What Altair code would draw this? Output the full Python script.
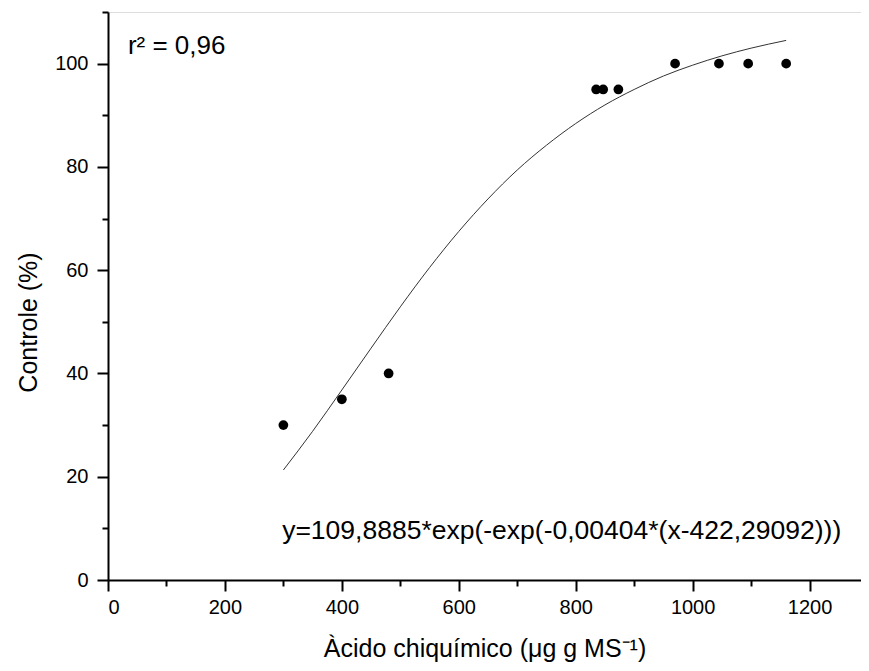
import altair as alt
import pandas as pd

# observed points
obs_x = [300, 400, 480, 835, 847, 873, 970, 1045, 1095, 1160]
obs_y = [30, 35, 40, 95, 95, 95, 100, 100, 100, 100]

# fitted curve, values
fit_x = [300, 350, 400, 450, 500, 550, 600, 650, 700, 750, 800, 850, 900, 950, 1000, 1050, 1100, 1160]
fit_y = [21.3, 28.8, 36.8, 44.9, 52.9, 60.5, 67.5, 73.8, 79.4, 84.2, 88.4, 92.0, 95.0, 97.6, 99.7, 101.5, 103.0, 104.5]

# annotations
ann_text = ["r² = 0,96", "y=109,8885*exp(-exp(-0,00404*(x-422,29092)))"]
ann_x = [34, 776]
ann_y = [103.4, 9.5]
ann_align = ["left", "center"]

x_ticks = list(range(0, 1201, 100))
y_ticks = list(range(0, 111, 10))

FONT = "Liberation Sans"

pts = pd.DataFrame({"x": obs_x, "y": obs_y})
fit = pd.DataFrame({"x": fit_x, "y": fit_y})
ann = pd.DataFrame({"t": ann_text, "x": ann_x, "y": ann_y, "a": ann_align})

xscale = alt.Scale(domain=[0, 1288], nice=False, zero=False)
yscale = alt.Scale(domain=[0, 110], nice=False, zero=False)

xaxis = alt.Axis(
    title="Àcido chiquímico (μg g MS⁻¹)",
    values=x_ticks,
    format="d",
    labelExpr="datum.value % 200 === 0 ? datum.label : ''",
    tickSize={"condition": {"test": "datum.value % 200 === 0", "value": 11}, "value": 6},
    grid=False,
    domainColor="black", domainWidth=2,
    tickColor="black", tickWidth=2,
    labelFont=FONT, labelFontSize=20, labelColor="black", labelPadding=6,
    titleFont=FONT, titleFontSize=25, titleFontWeight="normal", titleColor="black",
    titleY=68, titleBaseline="middle",
)
yaxis = alt.Axis(
    title="Controle (%)",
    values=y_ticks,
    format="d",
    labelExpr="datum.value % 20 === 0 ? datum.label : ''",
    tickSize={"condition": {"test": "datum.value % 20 === 0", "value": 11}, "value": 6},
    grid=False,
    domainColor="black", domainWidth=2,
    tickColor="black", tickWidth=2,
    labelFont=FONT, labelFontSize=20, labelColor="black", labelPadding=9,
    titleFont=FONT, titleFontSize=25, titleFontWeight="normal", titleColor="black",
    titleX=-80, titleY=310, titleBaseline="middle", titleAngle=270,
)

base_pts = alt.Chart(pts).mark_circle(size=95, color="black", opacity=1).encode(
    x=alt.X("x:Q", scale=xscale, axis=xaxis),
    y=alt.Y("y:Q", scale=yscale, axis=yaxis),
)

line = alt.Chart(fit).mark_line(color="#333333", strokeWidth=1, interpolate="monotone").encode(
    x=alt.X("x:Q", scale=xscale),
    y=alt.Y("y:Q", scale=yscale),
)

txt_left = alt.Chart(ann[ann.a == "left"]).mark_text(
    align="left", baseline="middle", font=FONT, fontSize=26, color="black"
).encode(x=alt.X("x:Q", scale=xscale), y=alt.Y("y:Q", scale=yscale), text="t:N")

txt_center = alt.Chart(ann[ann.a == "center"]).mark_text(
    align="center", baseline="middle", font=FONT, fontSize=26.5, color="black"
).encode(x=alt.X("x:Q", scale=xscale), y=alt.Y("y:Q", scale=yscale), text="t:N")

chart = alt.layer(line, base_pts, txt_left, txt_center).properties(
    width=753, height=568,
    autosize=alt.AutoSizeParams(type="none"),
    padding={"left": 100, "top": 4, "right": 0, "bottom": 83},
).configure_view(stroke=None).configure(background="white")

chart.save("out.html", embed_options={"renderer": "svg", "actions": False})
